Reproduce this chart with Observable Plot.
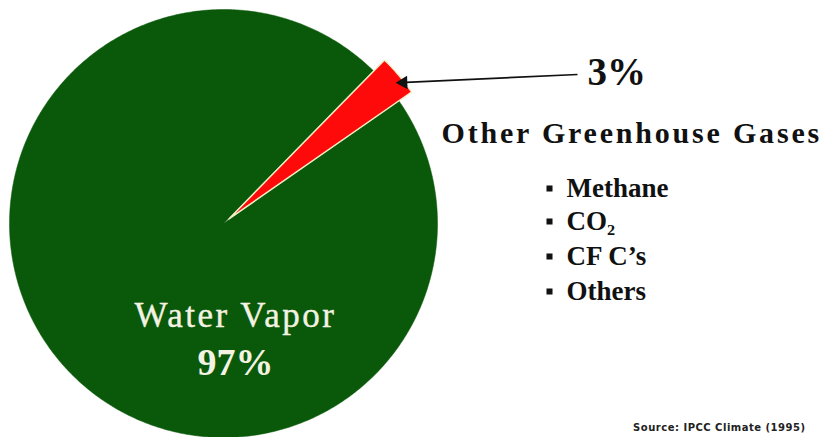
<!DOCTYPE html>
<html>
<head>
<meta charset="utf-8">
<script src="https://cdn.jsdelivr.net/npm/d3@7"></script>
<script src="https://cdn.jsdelivr.net/npm/@observablehq/plot@0.6"></script>
<style>
  html, body { margin: 0; padding: 0; background: #ffffff; }
  #chart svg { display: block; }
</style>
</head>
<body>
<div id="chart"></div>
<script>
// ---- data ----
const categories = ["Water Vapor", "Other Greenhouse Gases"];
const shares = [97, 3];
const shareLabels = ["97%", "3%"];
const otherGases = ["Methane", "CO\u2082", "CF C\u2019s", "Others"];
const sourceNote = "Source: IPCC Climate (1995)";

// ---- geometry helpers (pixel -> data units of the pie scales) ----
const CX = 223, CY = 223, R = 214;
const px = v => (v - CX) / R;
const py = v => (CY - v) / R;

const total = d3.sum(shares);
const startDeg = 44.4;          // where the small slice begins (clockwise from 12 o'clock)
const explode = 7.5 / R;        // small slice pulled out
const bigR = 222 / R;           // small slice drawn slightly larger

// slices: small slice first, then the large one
const order = [1, 0];
let a = startDeg;
const slicePts = [];
for (const i of order) {
  const span = shares[i] / total * 360;
  const a0 = a, a1 = a + span;
  const mid = (a0 + a1) / 2 * Math.PI / 180;
  const isSmall = i === 1;
  const ox = isSmall ? explode * Math.sin(mid) : 0;
  const oy = isSmall ? explode * Math.cos(mid) : 0;
  const r = isSmall ? bigR : 1;
  slicePts.push({name: categories[i], x: ox, y: oy});
  const n = Math.max(4, Math.ceil(span * 2));
  for (let k = 0; k <= n; k++) {
    const t = (a0 + (a1 - a0) * k / n) * Math.PI / 180;
    slicePts.push({name: categories[i], x: ox + r * Math.sin(t), y: oy + r * Math.cos(t)});
  }
  slicePts.push({name: categories[i], x: ox, y: oy});
  a = a1;
}

// arrow from "3%" label to the small slice
const smallMid = (startDeg + shares[1] / total * 180) * Math.PI / 180;
const tip = {x: explode * Math.sin(smallMid) + 0.985 * bigR * Math.sin(smallMid + 0.03),
             y: explode * Math.cos(smallMid) + 0.985 * bigR * Math.cos(smallMid + 0.03)};
const tail = {x: px(577), y: py(74)};

const bulletYs = [188, 221, 256, 291];
const bulletRows = otherGases.map((g, i) => ({g, x: px(549), tx: px(566), y: py(bulletYs[i])}));

const serif = "Liberation Serif, Times New Roman, serif";

const chart = Plot.plot({
  width: 821,
  height: 437,
  margin: 0,
  style: {background: "#ffffff", overflow: "visible"},
  x: {domain: [-1, 1], range: [CX - R, CX + R], axis: null},
  y: {domain: [-1, 1], range: [CY + R, CY - R], axis: null},
  color: {domain: categories, range: ["#0a590a", "#ff0a0a"]},
  marks: [
    Plot.line(slicePts.filter(d => d.name === categories[0]), {
      x: "x", y: "y", z: "name", fill: "name", stroke: "#0a590a", strokeWidth: 0.5, curve: "linear-closed"
    }),
    Plot.line(slicePts.filter(d => d.name === categories[1]), {
      x: "x", y: "y", z: "name", fill: "name", stroke: "#f2eec4", strokeWidth: 1.4, curve: "linear-closed"
    }),
    // arrow
    Plot.link([{x1: tail.x, y1: tail.y, x2: tip.x, y2: tip.y}], {
      x1: "x1", y1: "y1", x2: "x2", y2: "y2", stroke: "#111", strokeWidth: 1.6
    }),
    Plot.dot([tip], {x: "x", y: "y", symbol: "triangle", r: 5, fill: "#111", stroke: "none",
      rotate: -92, dx: 3}),
    // labels on the pie
    Plot.text([categories[0]], {x: px(235), y: py(315), text: d => d, fill: "#f4f2e2",
      fontSize: 35, fontFamily: serif, lineAnchor: "middle", stroke: "#f4f2e2", strokeWidth: 0.4}),
    Plot.text([shareLabels[0]], {x: px(235), y: py(362), text: d => d, fill: "#f4f2e2",
      fontSize: 38, fontWeight: "bold", fontFamily: serif, lineAnchor: "middle"}),
    // right-hand annotation
    Plot.text([shareLabels[1]], {x: px(587), y: py(72), text: d => d, fill: "#111",
      fontSize: 39, fontWeight: "bold", fontFamily: serif, textAnchor: "start", lineAnchor: "middle"}),
    Plot.text([categories[1]], {x: px(441), y: py(133), text: d => d, fill: "#111",
      fontSize: 30, fontWeight: "bold", fontFamily: serif, textAnchor: "start", lineAnchor: "middle"}),
    Plot.dot(bulletRows, {x: "x", y: "y", symbol: "square", r: 3.4, fill: "#111", stroke: "none"}),
    Plot.text(bulletRows, {x: "tx", y: "y", text: "g", fill: "#111",
      fontSize: 27, fontWeight: "bold", fontFamily: serif, textAnchor: "start", lineAnchor: "middle"}),
    Plot.text([sourceNote], {x: px(805), y: py(427), text: d => d, fill: "#222",
      fontSize: 10, fontWeight: "bold", fontFamily: "DejaVu Sans, sans-serif", textAnchor: "end", lineAnchor: "middle"})
  ]
});

// letter spacing tweaks
const spacing = {"Water Vapor": "2.5px", "Other Greenhouse Gases": "2.8px", [sourceNote]: "0.5px"};
d3.select(chart).selectAll("text").each(function() {
  const s = spacing[this.textContent];
  if (s) this.style.letterSpacing = s;
});

document.getElementById("chart").appendChild(chart);
</script>
</body>
</html>
